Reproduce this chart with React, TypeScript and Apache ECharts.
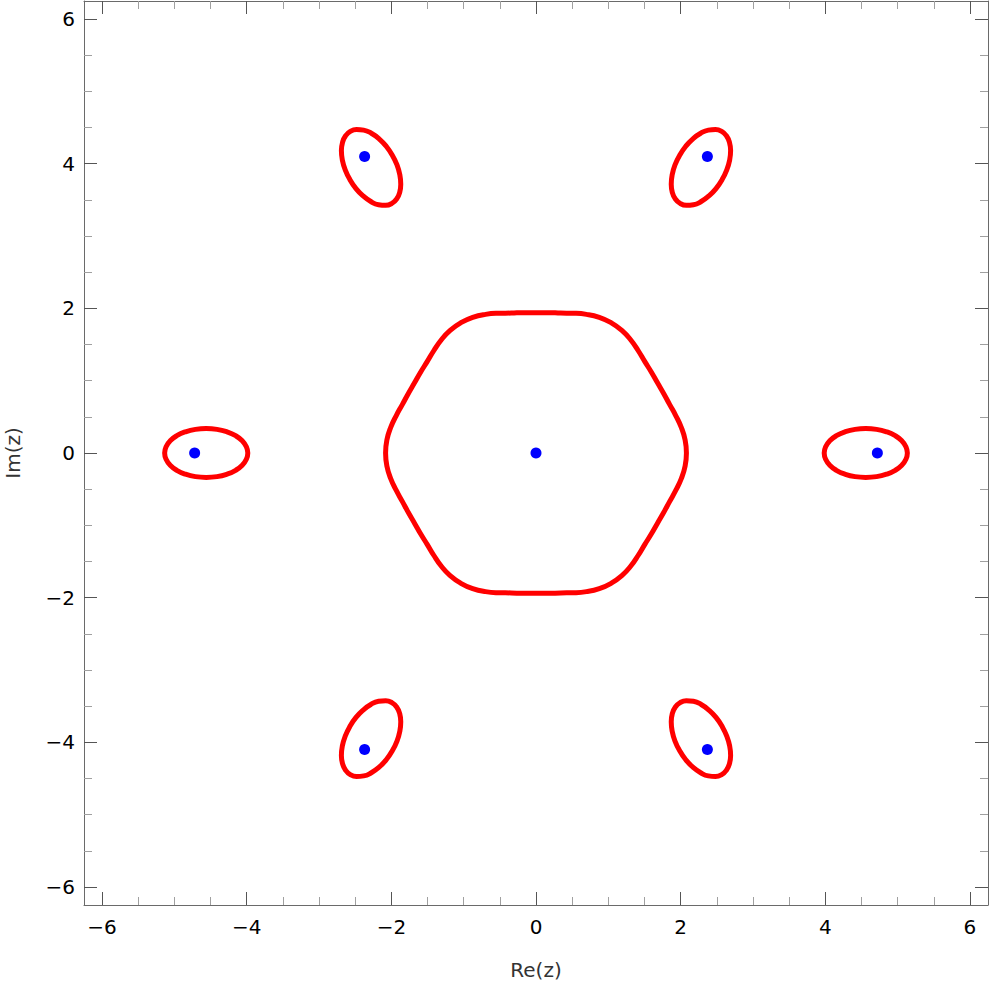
import React, { useEffect, useRef } from "react";
import * as echarts from "echarts";

type P = [number, number];

const AXIS_MIN = -6.25;
const AXIS_MAX = 6.25;
const majorTicks = [-6, -4, -2, 0, 2, 4, 6];
const minorTicks = [-5.5, -5, -4.5, -3.5, -3, -2.5, -1.5, -1, -0.5, 0.5, 1, 1.5, 2.5, 3, 3.5, 4.5, 5, 5.5];

const centralCurve: P[] = [
  [0, 1.94], [-0.17, 1.941], [-0.341, 1.935], [-0.518, 1.932], [-0.698, 1.917], [-0.875, 1.876],
  [-1.04, 1.801], [-1.187, 1.696], [-1.311, 1.563], [-1.414, 1.414], [-1.505, 1.263], [-1.596, 1.117],
  [-1.68, 0.97], [-1.765, 0.823], [-1.847, 0.672], [-1.932, 0.518], [-2.009, 0.354], [-2.062, 0.1805],
  [-2.08, 0], [-2.062, -0.1805], [-2.009, -0.354], [-1.932, -0.518], [-1.847, -0.672], [-1.765, -0.823],
  [-1.68, -0.97], [-1.596, -1.117], [-1.505, -1.263], [-1.414, -1.414], [-1.311, -1.563], [-1.187, -1.696],
  [-1.04, -1.801], [-0.875, -1.876], [-0.698, -1.917], [-0.518, -1.932], [-0.341, -1.935], [-0.17, -1.941],
  [0, -1.94], [0.17, -1.941], [0.341, -1.935], [0.518, -1.932], [0.698, -1.917], [0.875, -1.876],
  [1.04, -1.801], [1.187, -1.696], [1.311, -1.563], [1.414, -1.414], [1.505, -1.263], [1.596, -1.117],
  [1.68, -0.97], [1.765, -0.823], [1.847, -0.672], [1.932, -0.518], [2.009, -0.354], [2.062, -0.1805],
  [2.08, 0], [2.062, 0.1805], [2.009, 0.354], [1.932, 0.518], [1.847, 0.672], [1.765, 0.823],
  [1.68, 0.97], [1.596, 1.117], [1.505, 1.263], [1.414, 1.414], [1.311, 1.563], [1.187, 1.696],
  [1.04, 1.801], [0.875, 1.876], [0.698, 1.917], [0.518, 1.932], [0.341, 1.935], [0.17, 1.941], [0, 1.94],
];

const loopRight: P[] = [
  [4.56, 0.338], [4.411, 0.327], [4.273, 0.293], [4.153, 0.239], [4.062, 0.169], [4.005, 0.0875],
  [3.985, 0], [4.005, -0.0875], [4.062, -0.169], [4.153, -0.239], [4.273, -0.293], [4.411, -0.327],
  [4.56, -0.338], [4.709, -0.327], [4.848, -0.293], [4.967, -0.239], [5.058, -0.169], [5.115, -0.0875],
  [5.135, 0], [5.115, 0.0875], [5.058, 0.169], [4.967, 0.239], [4.848, 0.293], [4.709, 0.327], [4.56, 0.338],
];
const loopLeft: P[] = [
  [-4.56, 0.338], [-4.411, 0.327], [-4.273, 0.293], [-4.153, 0.239], [-4.062, 0.169], [-4.005, 0.0875],
  [-3.985, 0], [-4.005, -0.0875], [-4.062, -0.169], [-4.153, -0.239], [-4.273, -0.293], [-4.411, -0.327],
  [-4.56, -0.338], [-4.709, -0.327], [-4.848, -0.293], [-4.967, -0.239], [-5.058, -0.169], [-5.115, -0.0875],
  [-5.135, 0], [-5.115, 0.0875], [-5.058, 0.169], [-4.967, 0.239], [-4.848, 0.293], [-4.709, 0.327], [-4.56, 0.338],
];
const loopTopRight: P[] = [
  [1.987, 4.118], [1.922, 3.983], [1.883, 3.847], [1.87, 3.716], [1.885, 3.602], [1.927, 3.512],
  [1.993, 3.451], [2.078, 3.425], [2.177, 3.433], [2.284, 3.477], [2.39, 3.554], [2.489, 3.656],
  [2.573, 3.78], [2.638, 3.915], [2.678, 4.052], [2.691, 4.182], [2.675, 4.296], [2.633, 4.386],
  [2.568, 4.447], [2.482, 4.473], [2.383, 4.465], [2.277, 4.421], [2.17, 4.345], [2.071, 4.242], [1.987, 4.118],
];
const loopTopLeft: P[] = [
  [-1.987, 4.118], [-1.922, 3.983], [-1.883, 3.847], [-1.87, 3.716], [-1.885, 3.602], [-1.927, 3.512],
  [-1.993, 3.451], [-2.078, 3.425], [-2.177, 3.433], [-2.284, 3.477], [-2.39, 3.554], [-2.489, 3.656],
  [-2.573, 3.78], [-2.638, 3.915], [-2.678, 4.052], [-2.691, 4.182], [-2.675, 4.296], [-2.633, 4.386],
  [-2.568, 4.447], [-2.482, 4.473], [-2.383, 4.465], [-2.277, 4.421], [-2.17, 4.345], [-2.071, 4.242], [-1.987, 4.118],
];
const loopBottomRight: P[] = [
  [1.987, -4.118], [1.922, -3.983], [1.883, -3.847], [1.87, -3.716], [1.885, -3.602], [1.927, -3.512],
  [1.993, -3.451], [2.078, -3.425], [2.177, -3.433], [2.284, -3.477], [2.39, -3.554], [2.489, -3.656],
  [2.573, -3.78], [2.638, -3.915], [2.678, -4.052], [2.691, -4.182], [2.675, -4.296], [2.633, -4.386],
  [2.568, -4.447], [2.482, -4.473], [2.383, -4.465], [2.277, -4.421], [2.17, -4.345], [2.071, -4.242], [1.987, -4.118],
];
const loopBottomLeft: P[] = [
  [-1.987, -4.118], [-1.922, -3.983], [-1.883, -3.847], [-1.87, -3.716], [-1.885, -3.602], [-1.927, -3.512],
  [-1.993, -3.451], [-2.078, -3.425], [-2.177, -3.433], [-2.284, -3.477], [-2.39, -3.554], [-2.489, -3.656],
  [-2.573, -3.78], [-2.638, -3.915], [-2.678, -4.052], [-2.691, -4.182], [-2.675, -4.296], [-2.633, -4.386],
  [-2.568, -4.447], [-2.482, -4.473], [-2.383, -4.465], [-2.277, -4.421], [-2.17, -4.345], [-2.071, -4.242], [-1.987, -4.118],
];

const zeroPoints: P[] = [
  [0, 0], [4.72, 0], [-4.72, 0], [2.37, 4.1], [-2.37, 4.1], [2.37, -4.1], [-2.37, -4.1],
];

const curves: P[][] = [centralCurve, loopRight, loopLeft, loopTopRight, loopTopLeft, loopBottomRight, loopBottomLeft];

const FONT = "DejaVu Sans";
const fmt = (v: number) => (v < 0 ? "\u2212" + Math.abs(v) : String(v));

function makeAxis(position: string, major: boolean, withLabel: boolean, extra: any = {}) {
  return {
    type: "value",
    min: AXIS_MIN,
    max: AXIS_MAX,
    position,
    axisLine: { show: major, onZero: false, lineStyle: { color: "#6a6a6a", width: 1 } },
    axisTick: {
      show: true,
      inside: true,
      length: major ? 13 : 8,
      customValues: major ? majorTicks : minorTicks,
      lineStyle: { color: major ? "#555555" : "#a0a0a0", width: 1 },
    },
    axisLabel: withLabel
      ? {
          show: true,
          customValues: majorTicks,
          formatter: fmt,
          fontSize: 20,
          fontFamily: FONT,
          color: "#000000",
        }
      : { show: false },
    splitLine: { show: false },
    minorTick: { show: false },
    ...extra,
  };
}

export default function App() {
  const ref = useRef<HTMLDivElement>(null);
  useEffect(() => {
    if (!ref.current) return;
    const chart = echarts.init(ref.current, undefined, { renderer: "svg" });
    const xBottom: any = makeAxis("bottom", true, true, {
      name: "Re(z)",
      nameLocation: "middle",
      nameGap: 55,
      nameTextStyle: { fontSize: 20, fontFamily: FONT, color: "#333333" },
    });
    xBottom.axisLabel.margin = 12;
    const yLeft: any = makeAxis("left", true, true, {
      name: "Im(z)",
      nameLocation: "middle",
      nameGap: 61,
      nameTextStyle: { fontSize: 20, fontFamily: FONT, color: "#333333" },
    });
    yLeft.axisLabel.margin = 9;
    chart.setOption({
      animation: false,
      backgroundColor: "#ffffff",
      grid: {
        left: 84,
        top: 1,
        width: 904,
        height: 904,
        containLabel: false,
        outerBoundsMode: "none",
      },
      xAxis: [
        xBottom,
        makeAxis("bottom", false, false),
        makeAxis("top", true, false),
        makeAxis("top", false, false),
      ],
      yAxis: [
        yLeft,
        makeAxis("left", false, false),
        makeAxis("right", true, false),
        makeAxis("right", false, false),
      ],
      series: [
        ...curves.map((c) => ({
          type: "line",
          xAxisIndex: 0,
          yAxisIndex: 0,
          data: c,
          smooth: true,
          symbol: "none",
          showSymbol: false,
          lineStyle: { color: "#ff0000", width: 5, join: "round", cap: "round" },
          silent: true,
        })),
        {
          type: "scatter",
          xAxisIndex: 0,
          yAxisIndex: 0,
          data: zeroPoints,
          symbol: "circle",
          symbolSize: 11,
          itemStyle: { color: "#0000ff", opacity: 1 },
          silent: true,
          z: 5,
        },
      ],
    });
    return () => chart.dispose();
  }, []);
  return (
    <div
      ref={ref}
      style={{ position: "absolute", left: 0, top: 0, width: 996, height: 993 }}
    />
  );
}
